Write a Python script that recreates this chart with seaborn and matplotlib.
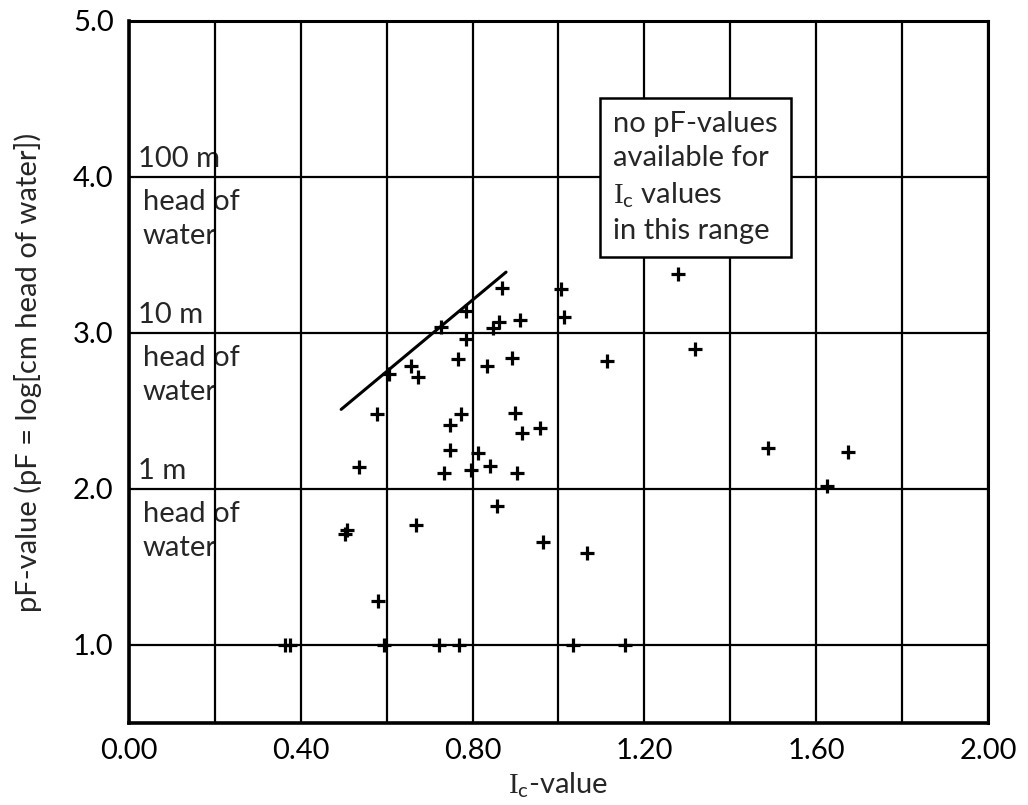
import numpy as np
import pandas as pd
import matplotlib
matplotlib.use("Agg")
import matplotlib.pyplot as plt
import seaborn as sns

# measured points (Ic-value, pF-value)
ic_values = [0.364, 0.374, 0.502, 0.508, 0.536, 0.578, 0.580, 0.593, 0.605,
             0.656, 0.669, 0.673, 0.721, 0.727, 0.733, 0.748, 0.748, 0.766,
             0.768, 0.774, 0.785, 0.785, 0.797, 0.812, 0.833, 0.841, 0.847,
             0.857, 0.861, 0.868, 0.892, 0.898, 0.904, 0.911, 0.915, 0.956,
             0.965, 1.005, 1.012, 1.033, 1.067, 1.112, 1.154, 1.278, 1.318,
             1.488, 1.626, 1.674]
pf_values = [1.00, 1.00, 1.71, 1.74, 2.14, 2.48, 1.28, 1.00, 2.74,
             2.79, 1.77, 2.72, 1.00, 3.04, 2.10, 2.41, 2.25, 2.83,
             1.00, 2.48, 3.14, 2.96, 2.12, 2.23, 2.79, 2.15, 3.03,
             1.89, 3.07, 3.29, 2.84, 2.49, 2.10, 3.08, 2.36, 2.39,
             1.66, 3.28, 3.10, 1.00, 1.59, 2.82, 1.00, 3.38, 2.90,
             2.26, 2.02, 2.24]

# upper envelope line
env_x = [0.494, 0.878]
env_y = [2.51, 3.39]

xticks = [0.0, 0.2, 0.4, 0.6, 0.8, 1.0, 1.2, 1.4, 1.6, 1.8, 2.0]
xticklabels = ["0.00", "", "0.40", "", "0.80", "", "1.20", "", "1.60", "", "2.00"]
yticks = [1.0, 2.0, 3.0, 4.0, 5.0]
yticklabels = ["1.0", "2.0", "3.0", "4.0", "5.0"]

head_labels = ["1 m", "10 m", "100 m"]
head_levels = [2.0, 3.0, 4.0]

FS = 21

sns.set_style("white")
plt.rcParams["font.family"] = ["Lato", "DejaVu Sans"]
plt.rcParams["mathtext.fontset"] = "custom"
plt.rcParams["mathtext.rm"] = "Liberation Serif"
plt.rcParams["mathtext.sf"] = "Lato"

IC = r"$\mathrm{I}_{\mathsf{c}}$"

df = pd.DataFrame({"ic": ic_values, "pf": pf_values})

fig = plt.figure(figsize=(10.28, 8.05), dpi=100)
ax = fig.add_axes([0.1255, 0.1019, 0.8355, 0.8721])

sns.scatterplot(data=df, x="ic", y="pf", marker="+", s=110, color="black",
                linewidth=2.3, ax=ax, zorder=5)
sns.lineplot(x=env_x, y=env_y, color="black", linewidth=2.2, ax=ax, zorder=5)

ax.set_xlim(0, 2.0)
ax.set_ylim(0.5, 5.0)
ax.set_xticks(xticks)
ax.set_xticklabels(xticklabels)
ax.set_yticks(yticks)
ax.set_yticklabels(yticklabels)
ax.tick_params(direction="out", length=8, width=2, labelsize=FS, color="black",
               labelcolor="black", pad=3)
ax.grid(True, color="black", linewidth=1.6)
ax.set_axisbelow(False)
for side in ["left", "bottom"]:
    ax.spines[side].set_linewidth(2.6)
for side in ["top", "right"]:
    ax.spines[side].set_linewidth(2.2)
for s in ax.spines.values():
    s.set_color("black")
    s.set_zorder(6)

ax.set_xlabel(IC + "-value", fontsize=FS, labelpad=4)
ax.set_ylabel("pF-value (pF = log[cm head of water])", fontsize=FS, labelpad=22)

for lab, lev in zip(head_labels, head_levels):
    ax.text(0.022, lev + 0.03, lab, fontsize=FS, ha="left", va="bottom", zorder=1)
    ax.text(0.032, lev - 0.08, "head of\nwater", fontsize=FS, ha="left", va="top",
            linespacing=1.35, zorder=1)

ax.text(1.128, 4.42, "no pF-values\navailable for\n" + IC + " values\nin this range",
        fontsize=FS, ha="left", va="top", linespacing=1.38, zorder=7,
        bbox=dict(boxstyle="square,pad=0.45", facecolor="white", edgecolor="black",
                  linewidth=1.8))

fig.savefig("out.png", dpi=100)
